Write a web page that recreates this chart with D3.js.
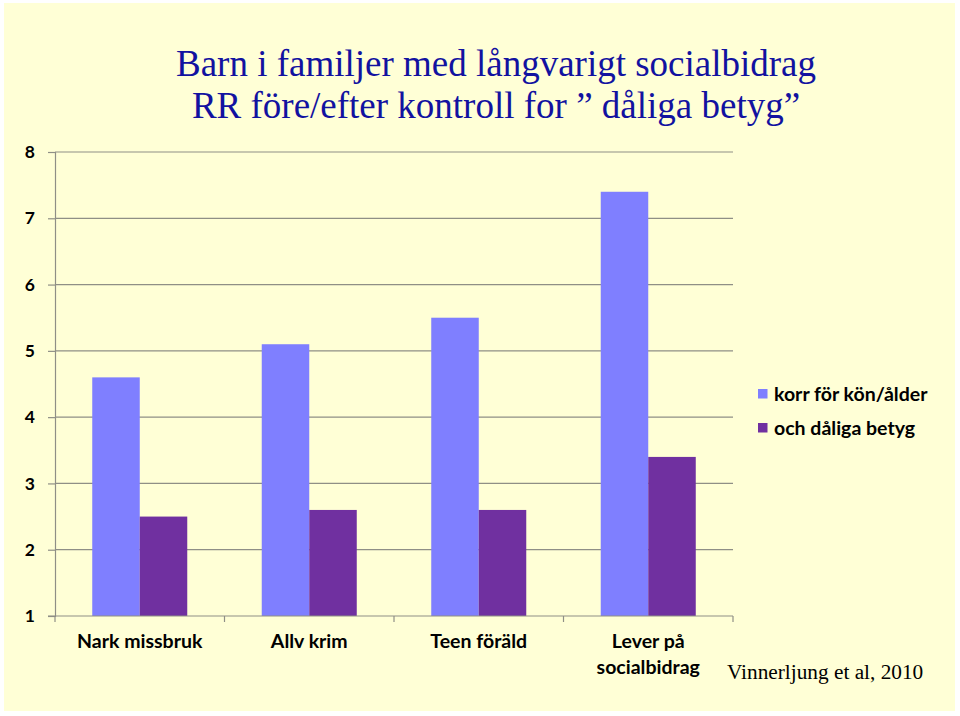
<!DOCTYPE html>
<html><head><meta charset="utf-8">
<script src="https://cdn.jsdelivr.net/npm/d3@7"></script>
<style>body{margin:0;background:#fff}</style>
</head><body>
<svg id="c" width="960" height="716"></svg>
<script>
const categories = [["Nark missbruk"], ["Allv krim"], ["Teen föräld"], ["Lever på", "socialbidrag"]];
const seriesNames = ["korr för kön/ålder", "och dåliga betyg"];
const seriesA = [4.6, 5.1, 5.5, 7.4];
const seriesB = [2.5, 2.6, 2.6, 3.4];
const yTicks = [1, 2, 3, 4, 5, 6, 7, 8];
const colors = ["#7F7FFF", "#7030A0"];
const titleLines = ["Barn i familjer med långvarigt socialbidrag", "RR före/efter kontroll for ” dåliga betyg”"];
const source = "Vinnerljung et al, 2010";

const svg = d3.select("#c");
svg.append("rect").attr("x",4).attr("y",3).attr("width",951).attr("height",708).attr("fill","#FFFFD6");

const L = 55, R = 733, T = 152, B = 616;
const y = d3.scaleLinear().domain([1, 8]).range([B, T]);
const x0 = d3.scaleBand().domain(d3.range(categories.length)).range([L, R]).padding(0);
const x1 = d3.scaleBand().domain([0, 1]).range([0, x0.bandwidth()]).paddingInner(0).paddingOuter(0.784);

const grid = "#8f8f86";
const sans = "Lato, 'Open Sans', sans-serif";
// gridlines
svg.append("g").selectAll("line").data(yTicks.slice(1)).join("line")
  .attr("x1", L).attr("x2", R).attr("y1", d => y(d)).attr("y2", d => y(d))
  .attr("stroke", grid).attr("stroke-width", 1.2);

// bars
const data = categories.map((c, i) => [seriesA[i], seriesB[i]]);
const g = svg.append("g");
data.forEach((vals, i) => {
  vals.forEach((v, s) => {
    g.append("rect")
      .attr("x", x0(i) + x1(s))
      .attr("y", y(v))
      .attr("width", x1.bandwidth())
      .attr("height", y(1) - y(v))
      .attr("fill", colors[s]);
  });
});

// y axis
const yAxis = d3.axisLeft(y).tickValues(yTicks).tickSize(7).tickPadding(13).tickFormat(d3.format("d"));
const ya = svg.append("g").attr("transform", `translate(${L},0)`).call(yAxis);
ya.select(".domain").attr("stroke", grid).attr("stroke-width", 1.2);
ya.selectAll(".tick line").attr("stroke", grid).attr("stroke-width", 1.2);
ya.selectAll(".tick text").attr("font-family", sans).attr("font-weight", "bold")
  .attr("font-size", 17.5).attr("fill", "#000");

// x axis
const xa = svg.append("g");
xa.append("line").attr("x1", L - 7).attr("x2", R).attr("y1", B).attr("y2", B).attr("stroke", grid).attr("stroke-width", 1.2);
xa.selectAll("line.t").data(d3.range(categories.length + 1)).join("line").attr("class","t")
  .attr("x1", i => i < categories.length ? x0(i) : R).attr("x2", i => i < categories.length ? x0(i) : R)
  .attr("y1", B).attr("y2", B + 6).attr("stroke", grid).attr("stroke-width", 1.2);
categories.forEach((lines, i) => {
  const t = xa.append("text").attr("x", x0(i) + x0.bandwidth() / 2).attr("y", 648)
    .attr("text-anchor", "middle").attr("font-family", sans)
    .attr("font-weight", "bold").attr("font-size", 19.5).attr("fill", "#000");
  lines.forEach((ln, j) => t.append("tspan").attr("x", x0(i) + x0.bandwidth() / 2).attr("dy", j ? 26 : 0).text(ln));
});

// title
titleLines.forEach((ln, j) => {
  svg.append("text").attr("x", 496).attr("y", 76 + j * 42).attr("text-anchor", "middle")
    .attr("font-family", "'Liberation Serif', 'Times New Roman', serif").attr("font-size", 37)
    .attr("fill", "#1212A0").text(ln);
});

// legend
seriesNames.forEach((n, s) => {
  svg.append("rect").attr("x", 758).attr("y", 389 + s * 34).attr("width", 9.5).attr("height", 9.5).attr("fill", colors[s]);
  svg.append("text").attr("x", 774).attr("y", 401 + s * 34)
    .attr("font-family", sans).attr("font-weight", "bold").attr("font-size", 19.5)
    .attr("fill", "#000").text(n);
});

// source
svg.append("text").attr("x", 727).attr("y", 679)
  .attr("font-family", "'Liberation Serif', 'Times New Roman', serif").attr("font-size", 21.3)
  .attr("fill", "#000").text(source);
</script>
</body></html>
